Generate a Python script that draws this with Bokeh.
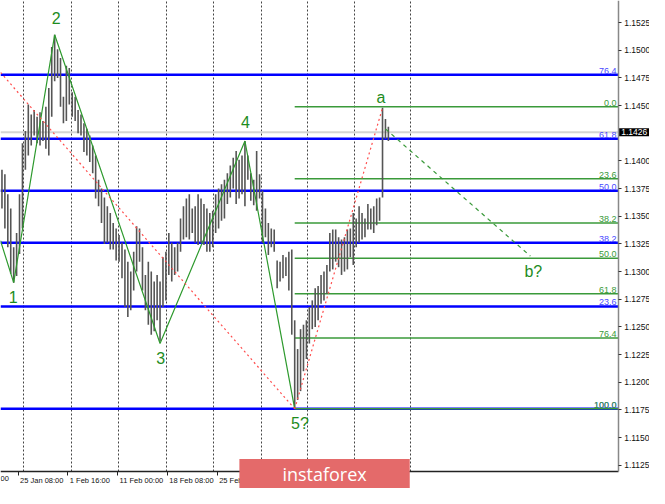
from bokeh.plotting import figure
from bokeh.models import Range1d, FixedTicker, Label, NumeralTickFormatter
from bokeh.core.properties import value
from bokeh.embed import file_html
from bokeh.resources import INLINE

# ---------------- data ----------------
highs = [1.1392, 1.1388, 1.1370, 1.1357, 1.1322, 1.1335, 1.1370, 1.1416, 1.1427, 1.1451,
         1.1442, 1.1446, 1.1440, 1.1444, 1.1436, 1.1449, 1.1466, 1.1503, 1.1514, 1.1501,
         1.1493, 1.1458, 1.1486, 1.1484, 1.1462, 1.1458, 1.1446, 1.1442, 1.1434, 1.1429,
         1.1423, 1.1414, 1.1405, 1.1383, 1.1375, 1.1367, 1.1359, 1.1353, 1.1344, 1.1339,
         1.1333, 1.1326, 1.1320, 1.1309, 1.1300, 1.1318, 1.1341, 1.1339, 1.1322, 1.1297,
         1.1309, 1.1300, 1.1291, 1.1297, 1.1291, 1.1313, 1.1318, 1.1335, 1.1326, 1.1322,
         1.1326, 1.1348, 1.1359, 1.1366, 1.1370, 1.1357, 1.1359, 1.1370, 1.1366, 1.1361,
         1.1357, 1.1353, 1.1355, 1.1370, 1.1375, 1.1379, 1.1383, 1.1389, 1.1396, 1.1403,
         1.1409, 1.1401, 1.1405, 1.1418, 1.1405, 1.1389, 1.1383, 1.1409, 1.1388, 1.1373,
         1.1357, 1.1344, 1.1339, 1.1338, 1.1310, 1.1309, 1.1315, 1.1313, 1.1318, 1.1320,
         1.1256, 1.1230, 1.1248, 1.1252, 1.1256, 1.1268, 1.1274, 1.1285, 1.1287, 1.1297,
         1.1300, 1.1306, 1.1335, 1.1338, 1.1338, 1.1331, 1.1329, 1.1331, 1.1338, 1.1339,
         1.1353, 1.1348, 1.1359, 1.1353, 1.1348, 1.1361, 1.1357, 1.1359, 1.1366, 1.1367,
         1.1448, 1.1438, 1.1431]
lows = [1.1357, 1.1339, 1.1322, 1.1298, 1.1290, 1.1296, 1.1316, 1.1339, 1.1392, 1.1405,
        1.1414, 1.1423, 1.1416, 1.1414, 1.1418, 1.1411, 1.1405, 1.1440, 1.1472, 1.1475,
        1.1449, 1.1434, 1.1436, 1.1451, 1.1440, 1.1436, 1.1425, 1.1423, 1.1408, 1.1405,
        1.1399, 1.1389, 1.1366, 1.1359, 1.1344, 1.1325, 1.1326, 1.1320, 1.1320, 1.1310,
        1.1309, 1.1294, 1.1268, 1.1259, 1.1265, 1.1283, 1.1300, 1.1309, 1.1283, 1.1265,
        1.1252, 1.1243, 1.1246, 1.1256, 1.1237, 1.1268, 1.1274, 1.1297, 1.1291, 1.1297,
        1.1300, 1.1318, 1.1329, 1.1331, 1.1329, 1.1335, 1.1326, 1.1324, 1.1326, 1.1324,
        1.1318, 1.1318, 1.1322, 1.1335, 1.1339, 1.1346, 1.1348, 1.1361, 1.1367, 1.1375,
        1.1361, 1.1366, 1.1370, 1.1359, 1.1383, 1.1364, 1.1360, 1.1355, 1.1366, 1.1326,
        1.1331, 1.1315, 1.1322, 1.1318, 1.1285, 1.1291, 1.1294, 1.1296, 1.1283, 1.1243,
        1.1176, 1.1184, 1.1192, 1.1210, 1.1221, 1.1235, 1.1248, 1.1250, 1.1256, 1.1271,
        1.1274, 1.1280, 1.1300, 1.1302, 1.1309, 1.1304, 1.1297, 1.1300, 1.1302, 1.1313,
        1.1306, 1.1322, 1.1326, 1.1329, 1.1331, 1.1338, 1.1338, 1.1335, 1.1342, 1.1346,
        1.1367, 1.1420, 1.1418]
last_price = 1.1426

# wave count (bar position, price)
wave_x = [0, 4.5, 18.5, 54.5, 83.5, 100.5]
wave_y = [1.1328, 1.1290, 1.1514, 1.1235, 1.1418, 1.1176]
wave_labels = ["1", "2", "3", "4", "5?", "a", "b?"]
wave_label_x = [4.3, 19.0, 54.7, 83.7, 102.3, 130.0, 182.0]
wave_label_y = [1.1277, 1.1529, 1.1222, 1.1435, 1.1163, 1.1457, 1.1300]

red_a_x = [0, 100.5]
red_a_y = [1.1480, 1.1176]
red_b_x = [100.5, 130.5]
red_b_y = [1.1176, 1.1448]
proj_x = [131.5, 181.0]
proj_y = [1.1429, 1.1314]

# Fibonacci levels
blue_levels = [1.1478, 1.1420, 1.1373, 1.1326, 1.12685, 1.1176]
blue_labels = ["76.4", "61.8", "50.0", "38.2", "23.6", "100.0"]
green_levels = [1.1449, 1.1384, 1.1344, 1.1312, 1.1280, 1.1240, 1.1176]
green_labels = ["0.0", "23.6", "38.2", "50.0", "61.8", "76.4", "100.0"]
green_start = 100.5

# axis
price_ticks = [1.1125, 1.1150, 1.1175, 1.1200, 1.1225, 1.1250, 1.1275, 1.1300, 1.1325,
               1.1350, 1.1375, 1.1400, 1.1450, 1.1475, 1.1500, 1.1525]
date_ticks = [6, 23, 40, 57, 74]
date_labels = ["25 Jan 08:00", "1 Feb 16:00", "11 Feb 00:00", "18 Feb 08:00", "25 Feb 16:00"]
edge_label = "00"      # visible tail of the previous time label at the left edge
grid_x = [8, 24.3, 40.3, 56.7, 72.7, 89, 105, 121, 140]

# ---------------- figure ----------------
FONT = value("Liberation Sans")
X_END = 211          # last bar slot / price scale position
Y_LOW, Y_HIGH = 1.1119, 1.1545

p = figure(width=649, height=488, output_backend="svg", toolbar_location=None,
           x_range=Range1d(0, 221.7), y_range=Range1d(1.1104, Y_HIGH),
           y_axis_location="right",
           min_border_left=0, min_border_top=0, min_border_right=0, min_border_bottom=0)
p.outline_line_color = None
p.background_fill_color = "white"
p.border_fill_color = "white"
p.ygrid.visible = False
p.xgrid.ticker = FixedTicker(ticks=grid_x)
p.xgrid.cross_bounds = (Y_LOW, Y_HIGH)
p.xgrid.grid_line_color = "#444444"
p.xgrid.grid_line_dash = "2 2"
p.xgrid.grid_line_width = 1

# price scale at the right of the bars
yax = p.yaxis[0]
yax.fixed_location = X_END
yax.bounds = (Y_LOW, Y_HIGH)
yax.ticker = FixedTicker(ticks=price_ticks)
yax.formatter = NumeralTickFormatter(format="0.0000")
yax.axis_line_color = "#888888"
yax.axis_line_width = 1.5
yax.major_tick_in = 0
yax.major_tick_out = 3
yax.major_tick_line_color = "#333333"
yax.minor_tick_line_color = None
yax.major_label_standoff = 3
yax.major_label_text_font = "Liberation Sans"
yax.major_label_text_font_size = "8.5px"
yax.major_label_text_color = "#111111"

# time scale under the bars (labels start right of their tick, as in MT4)
xax = p.xaxis[0]
xax.fixed_location = Y_LOW
xax.bounds = (0, X_END)
xax.ticker = FixedTicker(ticks=date_ticks)
xax.major_label_overrides = {t: "" for t in date_ticks}
xax.axis_line_color = "#222222"
xax.axis_line_width = 1.5
xax.major_tick_in = 0
xax.major_tick_out = 4
xax.major_tick_line_color = "#222222"
xax.minor_tick_line_color = None
p.text(x=date_ticks, y=[Y_LOW] * len(date_ticks), text=date_labels, text_align="left",
       text_baseline="top", x_offset=2, y_offset=4, text_font=FONT,
       text_font_size="7.5px", text_color="#111111")
p.text(x=[0], y=[Y_LOW], text=[edge_label], text_align="left", text_baseline="top",
       x_offset=0, y_offset=4, text_font=FONT, text_font_size="7.5px", text_color="#111111")

# current price line
p.segment(x0=[0], y0=[last_price], x1=[X_END], y1=[last_price], line_color="#d4d4d4", line_width=2)

# blue fib lines
p.segment(x0=[0] * len(blue_levels), y0=blue_levels, x1=[X_END] * len(blue_levels), y1=blue_levels,
          line_color="#0000ff", line_width=2.5)

# green fib lines
p.segment(x0=[green_start] * len(green_levels), y0=green_levels,
          x1=[X_END] * len(green_levels), y1=green_levels, line_color="#3a9a3a", line_width=1.5)

# price bars
bx = [i + 0.5 for i in range(len(highs))]
p.segment(x0=bx, y0=lows, x1=bx, y1=highs, line_color="#555555", line_width=1.6)

# wave lines
p.line(wave_x, wave_y, line_color="#2e9a2e", line_width=1.2)
p.line(red_a_x, red_a_y, line_color="#ff4d4d", line_width=1.2, line_dash="2 3")
p.line(red_b_x, red_b_y, line_color="#ff4d4d", line_width=1.2, line_dash="2 3")
p.line(proj_x, proj_y, line_color="#3a9a3a", line_width=1.2, line_dash="4 4")

# fib labels
p.text(x=[X_END - 0.6] * len(blue_levels), y=blue_levels, text=blue_labels,
       text_align="right", text_baseline="bottom", text_font=FONT,
       text_font_size="9px", text_color="#4a4aff", y_offset=-1)
p.text(x=[X_END - 0.6] * len(green_levels), y=green_levels, text=green_labels,
       text_align="right", text_baseline="bottom", text_font=FONT,
       text_font_size="9px", text_color="#3a9a3a", y_offset=-1)

# wave labels
p.text(x=wave_label_x, y=wave_label_y, text=wave_labels, text_align="center",
       text_baseline="middle", text_font=FONT, text_font_size="16px", text_color="#1e8c1e")

# current price tag
p.add_layout(Label(x=X_END, y=last_price, x_offset=1, text="1.1426", text_color="white",
                   background_fill_color="black", text_font="Liberation Sans",
                   text_font_size="8.5px", text_baseline="middle", text_align="left",
                   padding=dict(left=2, right=2, top=1, bottom=1)))

# watermark
p.add_layout(Label(x=110.7, y=1.11172, text="instaforex", text_color="white",
                   background_fill_color="#e46a6a", text_font="Open Sans",
                   text_font_size="18px", text_align="center", text_baseline="middle",
                   padding=dict(left=43, right=43, top=3, bottom=3)))

open("out.html", "w").write(file_html(p, INLINE))
